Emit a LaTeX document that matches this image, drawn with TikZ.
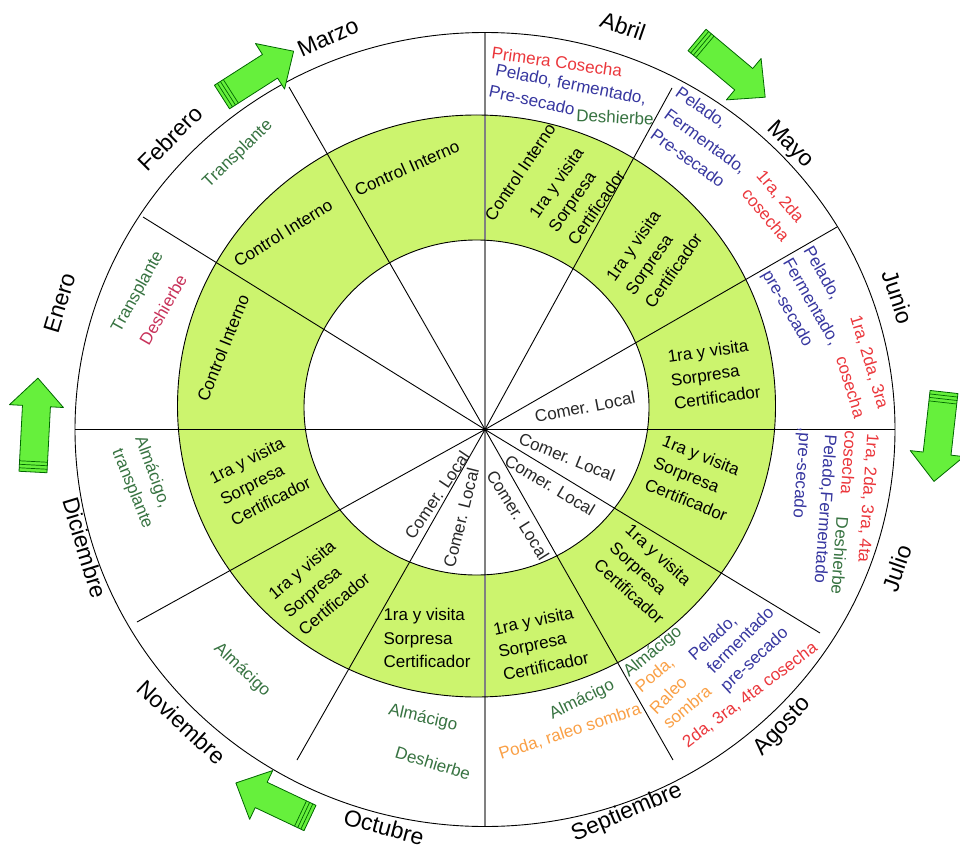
\documentclass[tikz,border=0pt]{standalone}
\usepackage{fontspec}
\setmainfont{Liberation Sans}
\definecolor{ringgreen}{RGB}{204,244,110}
\definecolor{arrowgreen}{RGB}{102,240,60}
\definecolor{tred}{RGB}{235,55,60}
\definecolor{tblue}{RGB}{55,55,160}
\definecolor{tgreen}{RGB}{55,115,65}
\definecolor{torange}{RGB}{250,160,70}
\definecolor{tpink}{RGB}{200,50,90}
\definecolor{tgray}{RGB}{40,40,40}
\newcommand{\blockarrow}[4]{%
  \begin{scope}[shift={(#1,#2)},rotate=#3]
    \filldraw[arrowbody] (0,-14) -- (#4-28,-14) -- (#4-28,-27) -- (#4,0) -- (#4-28,27) -- (#4-28,14) -- (0,14) -- cycle;
    \draw[stripe] (3.5,-14) -- (3.5,14) (7,-14) -- (7,14) (10.5,-14) -- (10.5,14);
  \end{scope}}
\begin{document}
\begin{tikzpicture}[x=1pt,y=-1pt,
  lbl/.style={inner sep=0pt, font=\fontsize{17}{23.5}\selectfont},
  blk/.style={lbl, align=left},
  month/.style={inner sep=0pt, font=\fontsize{23}{28}\selectfont},
  radial/.style={black, line width=0.9pt},
  vline/.style={gray, line width=1.1pt},
  ringline/.style={black, line width=0.9pt},
  arrowbody/.style={fill=arrowgreen, draw=black!60!green, line width=0.8pt, line join=round},
  stripe/.style={draw=black!60!green, line width=0.7pt}]
\useasboundingbox (0,0) rectangle (960,850);
\fill[white] (0,0) rectangle (960,850);
\clip (0,0) rectangle (960,850);
% green ring
\fill[ringgreen, even odd rule] (476.5,406) ellipse [x radius=299, y radius=291]
  (476.5,407.5) ellipse [x radius=172.5, y radius=167.5];
% centre and radial lines
\coordinate (C) at (485,429.5);
\coordinate (e0) at (895,429.5);
\coordinate (e180) at (75,429.5);
\coordinate (e90) at (485,32.5);
\coordinate (e270) at (485,826.5);
\coordinate (e30) at (837,227);
\coordinate (e61) at (672,88);
\coordinate (e120) at (289,87);
\coordinate (e148) at (143,217);
\coordinate (e209) at (137,622);
\coordinate (e240) at (297,760);
\coordinate (e300) at (673,760);
\coordinate (e329) at (820,633);
\draw[vline] (e90) -- (e270);
\draw[radial] (e180) -- (e0);
\foreach \e in {e30,e61,e120,e148,e209,e240,e300,e329} \draw[radial] (C) -- (\e);
% circles
\draw[ringline] (485,429.5) ellipse [x radius=410, y radius=397];
\draw[ringline] (476.5,406) ellipse [x radius=299, y radius=291];
\draw[ringline] (476.5,407.5) ellipse [x radius=172.5, y radius=167.5];
% arrows
\blockarrow{222}{97}{32.6}{85}
\blockarrow{697}{40}{-40}{89}
\blockarrow{944}{392}{-96.4}{90}
\blockarrow{310}{818}{154.7}{82}
\blockarrow{33}{472}{87}{94}
% months
\node[month, rotate=73] (m1) at (60,303) {Enero};
\node[month, rotate=45] (m2) at (170,138) {Febrero};
\node[month, rotate=24] (m3) at (328,37) {Marzo};
\node[month, rotate=-19] (m4) at (623,26) {Abril};
\node[month, rotate=-45] (m5) at (790,145) {Mayo};
\node[month, rotate=-72] (m6) at (898,297) {Junio};
\node[month, rotate=71] (m7) at (897,568) {Julio};
\node[month, rotate=47] (m8) at (783,727) {Agosto};
\node[month, rotate=23] (m9) at (627,813) {Septiembre};
\node[month, rotate=-15] (m10) at (384,827) {Octubre};
\node[month, rotate=-43] (m11) at (182,722) {Noviembre};
\node[month, rotate=-73] (m12) at (85,548) {Diciembre};
% green ring texts
\node[lbl, rotate=24] (g3) at (407,168) {Control Interno};
\node[lbl, rotate=32] (g2) at (283,233) {Control Interno};
\node[lbl, rotate=68] (g1) at (223,348) {Control Interno};
\node[lbl, rotate=56] (g4a) at (520,172) {Control Interno};
\node[blk, rotate=55] (g4b) at (577,194) {1ra y visita\\Sorpresa\\Certificador};
\node[blk, rotate=55] (g5) at (654,257) {1ra y visita\\Sorpresa\\Certificador};
\node[blk, rotate=8] (g6) at (714,374) {1ra y visita\\Sorpresa\\Certificador};
\node[blk, rotate=-22] (g7) at (695,478) {1ra y visita\\Sorpresa\\Certificador};
\node[blk, rotate=-42] (g8) at (645,574) {1ra y visita\\Sorpresa\\Certificador};
\node[blk, rotate=12] (g9) at (541,643) {1ra y visita\\Sorpresa\\Certificador};
\node[blk] (g10) at (427,638) {1ra y visita\\Sorpresa\\Certificador};
\node[blk, rotate=40] (g11) at (319,586) {1ra y visita\\Sorpresa\\Certificador};
\node[blk, rotate=27] (g12) at (260,480) {1ra y visita\\Sorpresa\\Certificador};
% inner circle texts
\node[lbl, tgray, rotate=11] (c1) at (585,407) {Comer. Local};
\node[lbl, tgray, rotate=-22] (c2) at (567,457) {Comer. Local};
\node[lbl, tgray, rotate=-31] (c3) at (550,485) {Comer. Local};
\node[lbl, tgray, rotate=-58] (c4) at (518,515) {Comer. Local};
\node[lbl, tgray, rotate=76] (c5) at (461,518) {Comer. Local};
\node[lbl, tgray, rotate=56] (c6) at (437,495) {Comer. Local};
% outer ring: Abril
\node[lbl, tred, rotate=-8] (a1) at (557,62) {Primera Cosecha};
\node[lbl, tblue, rotate=-11] (a2) at (571,85) {Pelado, fermentado,};
\node[lbl, tblue, rotate=-12] (a3) at (532,100) {Pre-secado};
\node[lbl, tgreen, rotate=-3] (a4) at (615,117) {Deshierbe};
% Mayo
\node[lbl, tblue, rotate=-35] (b1) at (701,108) {Pelado,};
\node[lbl, tblue, rotate=-36] (b2) at (705,142) {Fermentado,};
\node[lbl, tblue, rotate=-36] (b3) at (688,158) {Pre-secado};
\node[lbl, tred, rotate=-49] (b4) at (780,197) {1ra, 2da};
\node[lbl, tred, rotate=-50] (b5) at (766,215) {cosecha};
% Junio
\node[lbl, tblue, rotate=-60] (j1) at (822,273) {Pelado,};
\node[lbl, tblue, rotate=-60] (j2) at (811,302) {Fermentado,};
\node[lbl, tblue, rotate=-60] (j3) at (787,309) {pre-secado};
\node[lbl, tred, rotate=-73] (j4) at (869,362) {1ra, 2da, 3ra};
\node[lbl, tred, rotate=-73] (j5) at (851,387) {cosecha};
% Julio
\node[lbl, tred, rotate=-94] (k1) at (868,498) {1ra, 2da, 3ra, 4ta};
\node[lbl, tred, rotate=-94] (k2) at (849,463) {cosecha};
\node[lbl, tgreen, rotate=-94] (k3) at (840,556) {Deshierbe};
\node[lbl, tblue, rotate=-94] (k4) at (825,509) {Pelado,Fermentado};
\node[lbl, tblue, rotate=-94] (k5) at (801,473) {,pre-secado};
% Agosto
\node[lbl, tgreen, rotate=40] (h1) at (653,652) {Almácigo};
\node[lbl, torange, rotate=40] (h2) at (655,675) {Poda,};
\node[lbl, torange, rotate=45] (h3) at (668,695) {Raleo};
\node[lbl, torange, rotate=40] (h4) at (687,707) {sombra};
\node[lbl, tblue, rotate=42] (h5) at (713,638) {Pelado,};
\node[lbl, tblue, rotate=45] (h6) at (740,640) {fermentado};
\node[lbl, tblue, rotate=43] (h7) at (755,660) {pre-secado};
\node[lbl, tred, rotate=37] (h8) at (750,695) {2da, 3ra, 4ta cosecha};
% Septiembre
\node[lbl, tgreen, rotate=26] (s1) at (582,700) {Almácigo};
\node[lbl, torange, rotate=18] (s2) at (570,732) {Poda, raleo sombra};
% Octubre
\node[lbl, tgreen, rotate=-13] (o1) at (423,718) {Almácigo};
\node[lbl, tgreen, rotate=-17] (o2) at (433,763) {Deshierbe};
% Noviembre
\node[lbl, tgreen, rotate=-43] (n1) at (242,670) {Almácigo};
% Diciembre
\node[lbl, tgreen, rotate=-70] (d1) at (152,472) {Almácigo,};
\node[lbl, tgreen, rotate=-68] (d2) at (132,489) {transplante};
% Enero
\node[lbl, tgreen, rotate=61] (en1) at (138,292) {Transplante};
\node[lbl, tpink, rotate=60] (en2) at (163,310) {Deshierbe};
% Febrero
\node[lbl, tgreen, rotate=44] (f1) at (238,154) {Transplante};
\end{tikzpicture}
\end{document}
